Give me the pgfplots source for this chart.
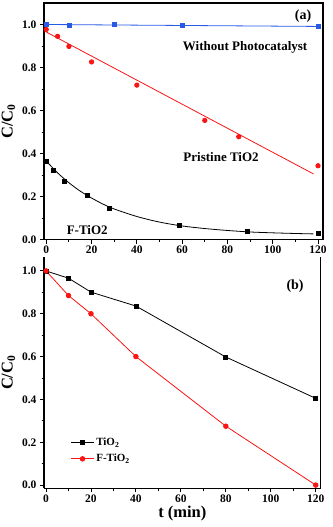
\documentclass[border=0pt]{standalone}
\usepackage{fontspec}
\setmainfont{Liberation Serif}
\usepackage{pgfplots}
\pgfplotsset{compat=1.18}

\definecolor{myblue}{RGB}{40,90,230}
\definecolor{myred}{RGB}{250,20,20}

\pgfplotsset{
  panel/.style={
    scale only axis,
    xmin=-1, xmax=122.2,
    xtick={0,20,40,60,80,100,120},
    ytick={0,0.2,0.4,0.6,0.8,1.0},
    minor x tick num=1, minor y tick num=1,
    tick align=outside, xtick pos=bottom, ytick pos=left,
    major tick length=4pt, minor tick length=2.5pt,
    axis line style={line width=1.1pt, -},
    every tick/.style={black, line width=0.9pt},
    /pgf/number format/assume math mode=true,
    tick label style={font=\bfseries\fontsize{11.5}{13}\selectfont},
    xticklabel style={yshift=1pt},
    yticklabel style={/pgf/number format/.cd, fixed, fixed zerofill, precision=1},
    label style={font=\bfseries\fontsize{16.5}{19}\selectfont},
    ylabel={C/C\textsubscript{0}},
    every axis plot/.append style={line width=0.8pt},
  }
}

\begin{document}
\begin{tikzpicture}
\useasboundingbox (0,0) rectangle (332pt,-527pt);

% (a)
\begin{axis}[panel, at={(44pt,-3pt)}, anchor=north west,
    width=279pt, height=236.5pt, ymin=0, ymax=1.1]
% without photocatalyst
\addplot[myblue, no marks] coordinates {(0,1.0) (120,0.991)};
\addplot[myblue, only marks, mark=square*, mark size=2pt] coordinates {
  (0,1.0) (10,0.997) (30,1.0) (60,0.994) (120,0.991)};
% pristine TiO2
\addplot[myred, no marks] coordinates {(0,0.965) (118,0.305)};
\addplot[myred, only marks, mark=*, mark size=2.2pt] coordinates {
  (0,0.977) (5,0.945) (10,0.898) (20,0.826) (40,0.718) (70,0.554) (85,0.478) (120,0.343)};
% F-TiO2 fit
\addplot[black, smooth, no marks] coordinates {
  (0,0.365) (5,0.310) (10,0.264) (15,0.225) (20,0.193) (25,0.165) (30,0.142)
  (40,0.107) (50,0.081) (60,0.063) (70,0.051) (80,0.042) (90,0.035)
  (100,0.031) (110,0.028) (118,0.026)};
\addplot[black, only marks, mark=square*, mark size=2pt] coordinates {
  (0,0.362) (3,0.323) (8,0.269) (18,0.205) (28,0.143) (59,0.065) (89,0.040) (120,0.028)};
\node[font=\bfseries\fontsize{14}{16}\selectfont] at (axis cs:113.4,1.037) {(a)};
\node[font=\bfseries\fontsize{13}{15}\selectfont] at (axis cs:87.8,0.892) {Without Photocatalyst};
\node[font=\bfseries\fontsize{13}{15}\selectfont] at (axis cs:77.2,0.383) {Pristine TiO2};
\node[font=\bfseries\fontsize{13}{15}\selectfont] at (axis cs:18.1,0.046) {F-TiO2};
\end{axis}

% (b)
\begin{axis}[panel, at={(44pt,-257pt)}, anchor=north west,
    width=276.7pt, height=231.3pt, ymin=-0.015, ymax=1.065,
    xmin=-0.9, xmax=122.2,
    axis x line*=bottom, axis y line*=box,
    xlabel={t (min)},
    xlabel style={yshift=3pt},
    legend style={at={(axis description cs:0.085,0.235)}, anchor=north west,
      draw=none, fill=none, font=\bfseries\fontsize{11}{13}\selectfont,
      row sep=3pt},
    legend cell align=left,
    legend image code/.code={\draw[mark repeat=2,mark phase=2] plot coordinates {(0cm,0cm)(0.4cm,0cm)(0.8cm,0cm)};},
]
\addplot[black, mark=square*, mark size=2pt] coordinates {
  (0,1.0) (10,0.966) (20,0.901) (40,0.836) (80,0.598) (120,0.405)};
\addlegendentry{TiO\textsubscript{2}}
\addplot[myred, mark=*, mark size=2.3pt] coordinates {
  (0,1.0) (10,0.885) (20,0.80) (40,0.60) (80,0.275) (120,0.0)};
\addlegendentry{F-TiO\textsubscript{2}}
\node[font=\bfseries\fontsize{14}{16}\selectfont] at (axis cs:110.8,0.931) {(b)};
\end{axis}
\end{tikzpicture}
\end{document}
